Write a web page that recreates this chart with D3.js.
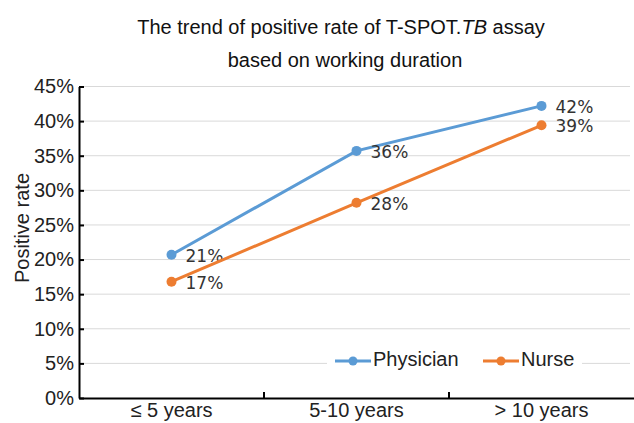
<!DOCTYPE html>
<html>
<head>
<meta charset="utf-8">
<script src="https://cdn.jsdelivr.net/npm/d3@7"></script>
<style>
  body { margin: 0; background: #fff; }
  svg { display: block; font-family: "Liberation Sans", Arial, sans-serif; }
</style>
</head>
<body>
<svg width="634" height="423"></svg>
<script>
const categories = ["≤ 5 years", "5-10 years", "> 10 years"];
const physician = [20.7, 35.7, 42.2];
const nurse = [16.8, 28.2, 39.4];
const physicianLabels = ["21%", "36%", "42%"];
const nurseLabels = ["17%", "28%", "39%"];
const yTicks = [0, 5, 10, 15, 20, 25, 30, 35, 40, 45];

const series = [
  { name: "Physician", values: physician, labels: physicianLabels, color: "#5B9BD5" },
  { name: "Nurse", values: nurse, labels: nurseLabels, color: "#ED7D31" }
];

const svg = d3.select("svg");
const margin = { left: 79, right: 634, top: 86.5, bottom: 398 };

const x = d3.scaleBand().domain(categories).range([margin.left, margin.right]);
const y = d3.scaleLinear().domain([0, 45]).range([margin.bottom, margin.top]);

// titulo
const title = svg.append("text")
  .attr("x", 341).attr("y", 34)
  .attr("text-anchor", "middle")
  .style("font-size", "20px").attr("fill", "#111");
title.append("tspan").text("The trend of positive rate of T-SPOT.");
title.append("tspan").style("font-style", "italic").text("TB");
title.append("tspan").text(" assay");
svg.append("text")
  .attr("x", 345).attr("y", 67)
  .attr("text-anchor", "middle")
  .style("font-size", "20px").attr("fill", "#111")
  .text("based on working duration");

// grid
svg.append("g").selectAll("line")
  .data(yTicks.slice(1))
  .join("line")
  .attr("x1", margin.left).attr("x2", 630)
  .attr("y1", d => y(d)).attr("y2", d => y(d))
  .attr("stroke", "#d9d9d9").attr("stroke-width", 1);

// eixo y
const yAxis = svg.append("g")
  .attr("transform", `translate(${margin.left},0)`)
  .call(d3.axisLeft(y).tickValues(yTicks).tickFormat(d => d + "%").tickSizeInner(-5).tickSizeOuter(0).tickPadding(5));
yAxis.select(".domain").attr("stroke", "#000").attr("stroke-width", 2);
yAxis.selectAll(".tick line").attr("stroke", "#000").attr("stroke-width", 2);
yAxis.selectAll("text").style("font-size", "20px").attr("fill", "#222")
  .attr("font-family", "Liberation Sans, Arial, sans-serif");

// eixo x
const xAxis = svg.append("g")
  .attr("transform", `translate(0,${margin.bottom})`)
  .call(d3.axisBottom(x).tickSize(0).tickPadding(5));
xAxis.select(".domain").attr("stroke", "#000").attr("stroke-width", 2);
xAxis.selectAll("text").style("font-size", "20px").attr("fill", "#222")
  .attr("font-family", "Liberation Sans, Arial, sans-serif");
xAxis.append("g").selectAll("line")
  .data(categories.slice(1))
  .join("line")
  .attr("x1", d => x(d)).attr("x2", d => x(d))
  .attr("y1", 0).attr("y2", -6)
  .attr("stroke", "#000").attr("stroke-width", 2);

svg.append("text")
  .attr("transform", "translate(29,228) rotate(-90)")
  .attr("text-anchor", "middle")
  .style("font-size", "20px").attr("fill", "#222")
  .text("Positive rate");

// linhas
const cx = c => x(c) + x.bandwidth() / 2;
const line = d3.line().x(d => cx(d.cat)).y(d => y(d.v));

series.forEach(s => {
  const pts = categories.map((c, i) => ({ cat: c, v: s.values[i], label: s.labels[i] }));
  svg.append("path")
    .datum(pts)
    .attr("d", line)
    .attr("fill", "none")
    .attr("stroke", s.color)
    .attr("stroke-width", 3);
  svg.append("g").selectAll("circle")
    .data(pts)
    .join("circle")
    .attr("cx", d => cx(d.cat)).attr("cy", d => y(d.v))
    .attr("r", 5).attr("fill", s.color);
  svg.append("g").selectAll("text")
    .data(pts)
    .join("text")
    .attr("x", d => cx(d.cat) + 14).attr("y", d => y(d.v) + 2)
    .attr("dominant-baseline", "middle")
    .style("font-family", "'DejaVu Sans', sans-serif")
    .style("font-size", "17px").attr("fill", "#333")
    .text(d => d.label);
});

// legenda
const legend = svg.append("g");
legend.append("rect")
  .attr("x", 327).attr("y", 345).attr("width", 255).attr("height", 32)
  .attr("fill", "#fff");
const legendX = [335, 483];
series.forEach((s, i) => {
  const g = legend.append("g").attr("transform", `translate(${legendX[i]},361)`);
  g.append("line").attr("x1", 0).attr("x2", 36).attr("stroke", s.color).attr("stroke-width", 3);
  g.append("circle").attr("cx", 18).attr("r", 4.5).attr("fill", s.color);
  g.append("text").attr("x", 38).attr("dominant-baseline", "middle")
    .style("font-size", "20px").attr("fill", "#222").text(s.name);
});
</script>
</body>
</html>
